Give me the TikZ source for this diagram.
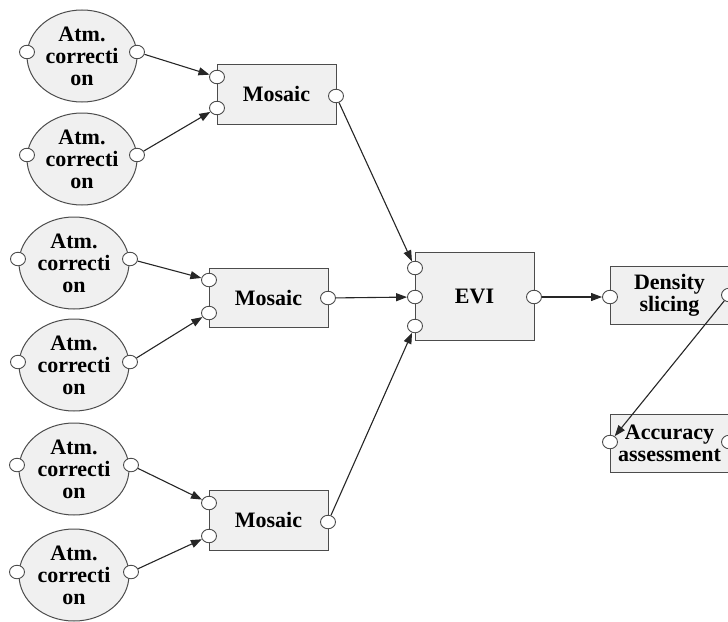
\documentclass[tikz,border=0pt]{standalone}
\usepackage{fontspec}
\setmainfont{Liberation Serif}
\usetikzlibrary{arrows.meta,shapes.geometric}
\begin{document}
\begin{tikzpicture}[x=1pt,y=-1pt,
  txt/.style={font=\fontsize{22}{22}\selectfont\bfseries},
  proc/.style={ellipse,draw=black!70,fill=black!6,line width=1pt,minimum width=110pt,minimum height=92pt,inner sep=0pt,align=center,txt},
  box/.style={rectangle,draw=black!70,fill=black!6,line width=1pt,minimum width=119pt,inner sep=0pt,align=center,txt},
  port/.style={ellipse,draw=black!70,fill=white,line width=0.9pt,minimum width=15pt,minimum height=13.5pt,inner sep=0pt},
  arr/.style={-{Triangle[length=11pt,width=8pt]},line width=1.1pt,draw=black!85}]
\useasboundingbox (0,0) rectangle (728,621);
\clip (0,0) rectangle (728,621);
% ellipses
\node[proc] (e1) at (82,56) {Atm.\\correcti\\on};
\node[proc] (e2) at (82,159) {Atm.\\correcti\\on};
\node[proc] (e3) at (74,263) {Atm.\\correcti\\on};
\node[proc] (e4) at (74,365) {Atm.\\correcti\\on};
\node[proc] (e5) at (74,469) {Atm.\\correcti\\on};
\node[proc] (e6) at (74,575) {Atm.\\correcti\\on};
\node[port] (e1l) at (27,52) {};  \node[port] (e1r) at (137,52) {};
\node[port] (e2l) at (27,155) {}; \node[port] (e2r) at (137,155) {};
\node[port] (e3l) at (18,259) {}; \node[port] (e3r) at (130,259) {};
\node[port] (e4l) at (18,362) {}; \node[port] (e4r) at (130,362) {};
\node[port] (e5l) at (17,465) {}; \node[port] (e5r) at (131,465) {};
\node[port] (e6l) at (17,572) {}; \node[port] (e6r) at (131,572) {};
% boxes
\node[box,minimum height=60pt] (m1) at (276.5,94) {Mosaic};
\node[box,minimum height=59pt] (m2) at (268.5,297.5) {Mosaic};
\node[box,minimum height=60pt] (m3) at (268.5,520) {Mosaic};
\node[box,minimum height=88pt] (evi) at (474.5,296) {EVI};
\node[box,minimum height=58pt] (ds) at (669.5,295) {Density\\slicing};
\node[box,minimum height=58pt] (aa) at (669.5,443) {Accuracy\\assessment};
\node[port] (m1a) at (217,77) {};  \node[port] (m1b) at (217,108) {}; \node[port] (m1o) at (336,96) {};
\node[port] (m2a) at (209,280) {}; \node[port] (m2b) at (209,313) {}; \node[port] (m2o) at (328,298) {};
\node[port] (m3a) at (209,503) {}; \node[port] (m3b) at (209,536) {}; \node[port] (m3o) at (328,522) {};
\node[port] (ev1) at (415,268) {}; \node[port] (ev2) at (415,297) {}; \node[port] (ev3) at (415,326) {};
\node[port] (evo) at (534,297) {};
\node[port] (dsi) at (610,297) {}; \node[port] (dso) at (729,295) {};
\node[port] (aai) at (610,442) {}; \node[port] (aao) at (729,442) {};
% connectors
\draw[arr] (e1r) -- (m1a);
\draw[arr] (e2r) -- (m1b);
\draw[arr] (e3r) -- (m2a);
\draw[arr] (e4r) -- (m2b);
\draw[arr] (e5r) -- (m3a);
\draw[arr] (e6r) -- (m3b);
\draw[arr] (m1o) -- (ev1);
\draw[arr] (m2o) -- (ev2);
\draw[arr] (m3o) -- (ev3);
\draw[arr] (evo) -- (dsi);
\draw[arr] (dso) -- (aai);
\end{tikzpicture}
\end{document}
